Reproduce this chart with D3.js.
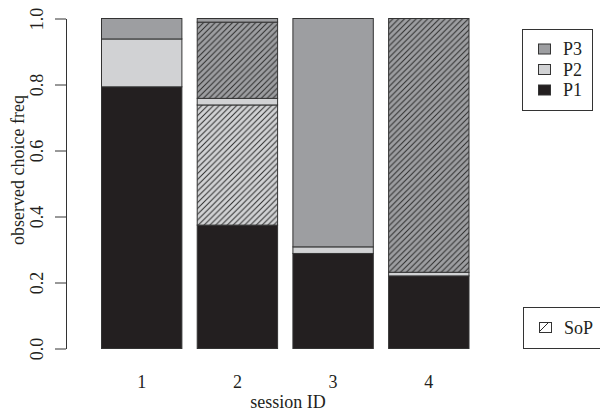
<!DOCTYPE html>
<html>
<head>
<meta charset="utf-8">
<script src="https://cdn.jsdelivr.net/npm/d3@7"></script>
<style>
  body { margin: 0; background: #fff; }
  svg { display: block; font-family: "Liberation Serif", "DejaVu Serif", serif; }
  text { fill: #231f20; }
</style>
</head>
<body>
<svg id="chart" width="600" height="414"></svg>
<script>
const sessions = ["1", "2", "3", "4"];
// stacked from the bottom up; *Sop series are the hatched parts
const seriesKeys = ["p1", "p2Sop", "p2", "p3Sop", "p3"];
const p1 = [0.793, 0.374, 0.288, 0.220];
const p2Sop = [0, 0.364, 0, 0];
const p2 = [0.145, 0.020, 0.020, 0.011];
const p3Sop = [0, 0.231, 0, 0.769];
const p3 = [0.062, 0.011, 0.692, 0];
const yTicks = [0, 0.2, 0.4, 0.6, 0.8, 1.0];
const legendItems = ["P3", "P2", "P1"];

const fills = { p1: "#231f20", p2: "#d1d2d4", p3: "#9d9ea1" };
const seriesFill = {
  p1: fills.p1, p2Sop: "url(#hatch-p2)", p2: fills.p2,
  p3Sop: "url(#hatch-p3)", p3: fills.p3
};
const FONT = "18px";

const rows = sessions.map((s, i) => ({
  session: s, p1: p1[i], p2Sop: p2Sop[i], p2: p2[i], p3Sop: p3Sop[i], p3: p3[i]
}));

const svg = d3.select("#chart");
const defs = svg.append("defs");

function hatch(id, bg, size) {
  const pat = defs.append("pattern")
    .attr("id", id)
    .attr("patternUnits", "userSpaceOnUse")
    .attr("width", size).attr("height", size);
  pat.append("rect").attr("width", size).attr("height", size).attr("fill", bg);
  pat.append("path")
    .attr("d", `M0,${size} L${size},0 M${-size / 2},${size / 2} L${size / 2},${-size / 2} M${size / 2},${size * 1.5} L${size * 1.5},${size / 2}`)
    .attr("stroke", "#2b2b2b").attr("stroke-width", 1);
}
hatch("hatch-p2", fills.p2, 5.8);
hatch("hatch-p3", fills.p3, 5.8);
hatch("hatch-key", "#fff", 13);

const x = d3.scaleBand().domain(sessions).range([101.5, 469]).paddingInner(0.16).paddingOuter(0);
const y = d3.scaleLinear().domain([0, 1]).range([348.5, 18.5]);

const stacked = d3.stack().keys(seriesKeys)(rows);

svg.append("g").selectAll("g")
  .data(stacked)
  .join("g")
  .attr("fill", (d) => seriesFill[d.key])
  .selectAll("rect")
  .data((d) => d.filter((seg) => seg[1] - seg[0] > 0))
  .join("rect")
  .attr("x", (seg) => x(seg.data.session))
  .attr("width", x.bandwidth())
  .attr("y", (seg) => y(seg[1]))
  .attr("height", (seg) => y(seg[0]) - y(seg[1]))
  .attr("stroke", "#333")
  .attr("stroke-width", 1);

// y axis, labels parallel to the axis as in R
const yAxis = svg.append("g")
  .attr("transform", "translate(66,0)")
  .call(d3.axisLeft(y).tickValues(yTicks).tickFormat(d3.format(".1f")).tickSize(11).tickSizeOuter(0));
yAxis.select(".domain").attr("stroke", "#333");
yAxis.selectAll(".tick line").attr("stroke", "#333");
yAxis.selectAll(".tick text")
  .attr("x", 0).attr("dy", null)
  .attr("transform", "translate(-29,0) rotate(-90)")
  .attr("text-anchor", "middle")
  .attr("dominant-baseline", "central")
  .style("font-size", FONT)
  .style("font-family", "Liberation Serif, serif")
  .attr("fill", "#231f20");

// x tick labels, no axis line
svg.append("g").selectAll("text")
  .data(sessions)
  .join("text")
  .attr("x", (s) => x(s) + x.bandwidth() / 2)
  .attr("y", 388)
  .attr("text-anchor", "middle")
  .style("font-size", FONT)
  .text((s) => s);

svg.append("text")
  .attr("x", 288).attr("y", 408)
  .attr("text-anchor", "middle")
  .style("font-size", FONT)
  .text("session ID");

svg.append("text")
  .attr("transform", "translate(24,170) rotate(-90)")
  .attr("text-anchor", "middle")
  .style("font-size", FONT)
  .text("observed choice freq");

// legend: choices
const legend = svg.append("g");
legend.append("rect")
  .attr("x", 522.5).attr("y", 29.5).attr("width", 70).attr("height", 81)
  .attr("fill", "#fff").attr("stroke", "#333");
legend.selectAll("g")
  .data(legendItems)
  .join("g")
  .attr("transform", (d, i) => `translate(0,${49 + i * 20.5})`)
  .each(function (d) {
    const g = d3.select(this);
    g.append("rect").attr("x", 538.5).attr("y", -5).attr("width", 12).attr("height", 10)
      .attr("fill", fills[d.toLowerCase()]).attr("stroke", "#333");
    g.append("text").attr("x", 563).attr("y", 0).attr("dominant-baseline", "central")
      .style("font-size", FONT).text(d);
  });

// legend: SoP hatch
const sopLegend = svg.append("g");
sopLegend.append("rect")
  .attr("x", 523.5).attr("y", 307.5).attr("width", 90).attr("height", 41)
  .attr("fill", "#fff").attr("stroke", "#333");
sopLegend.append("rect")
  .attr("x", 539.5).attr("y", 322.5).attr("width", 12).attr("height", 10)
  .attr("fill", "url(#hatch-key)").attr("stroke", "#333");
sopLegend.append("text")
  .attr("x", 564).attr("y", 328).attr("dominant-baseline", "central")
  .style("font-size", FONT).text("SoP");
</script>
</body>
</html>
